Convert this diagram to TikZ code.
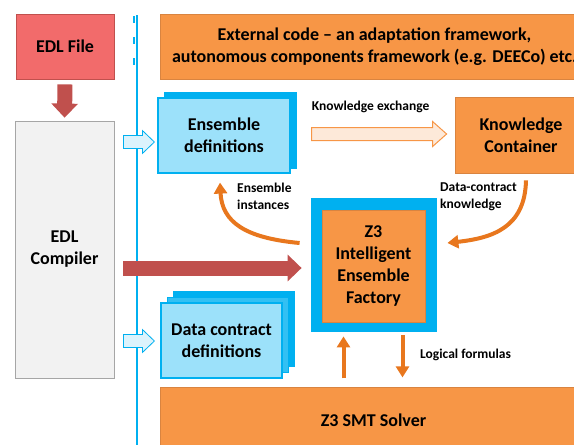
\documentclass[tikz,border=0pt]{standalone}
\usepackage{fontspec}
\setmainfont{Carlito}
\usetikzlibrary{positioning,calc,arrows.meta}
\definecolor{edlred}{HTML}{C0504D}
\definecolor{filered}{HTML}{F26B6B}
\definecolor{orfill}{HTML}{F79646}
\definecolor{ordraw}{HTML}{D98440}
\definecolor{orline}{HTML}{E8771E}
\definecolor{skyblue}{HTML}{00B0F0}
\definecolor{paleblue}{HTML}{9CE1FA}
\definecolor{arrowblue}{HTML}{DCF3FC}
\definecolor{peach}{HTML}{FDE9D9}
\definecolor{greyfill}{HTML}{F2F2F2}
\tikzset{
    box/.style = {
        draw,
        shape=rectangle,
        inner sep=0pt,
        align=center,
        line width=0.8pt,
        font=\fontsize{18}{22}\selectfont\bfseries
    },
    orbox/.style = {
        box,
        fill=orfill,
        draw=ordraw
    },
    filebox/.style = {
        box,
        fill=filered,
        draw=edlred
    },
    compbox/.style = {
        box,
        fill=greyfill,
        draw=gray!70
    },
    frontbox/.style = {
        box,
        fill=paleblue,
        draw=skyblue,
        line width=1.2pt
    },
    backbox/.style = {
        box,
        fill=skyblue,
        draw=skyblue
    },
    lbl/.style = {
        inner sep=0pt,
        align=left,
        font=\fontsize{13.5}{17}\selectfont\bfseries
    },
    redarrow/.style = {
        draw=edlred,
        line width=15pt,
        -{Triangle[length=14pt,width=26pt]}
    },
    orarrow/.style = {
        draw=orline,
        line width=4pt,
        -{Triangle[length=11pt,width=13pt]}
    },
    bluearrow/.style = {
        fill=arrowblue,
        draw=skyblue,
        line width=0.8pt
    },
    peacharrow/.style = {
        fill=peach,
        draw=orfill,
        line width=1pt
    },
    sepline/.style = {
        draw=skyblue,
        line width=2pt
    },
}
% #1 style, #2 from, #3 tip, #4 half shaft, #5 half head, #6 head length
\newcommand{\hblockarrow}[6]{%
    \path[#1] let \p1=(#2), \p2=(#3) in
        (\x1,\y1+#4) -- (\x2-#6,\y1+#4) -- (\x2-#6,\y1+#5) -- (\x2,\y1)
        -- (\x2-#6,\y1-#5) -- (\x2-#6,\y1-#4) -- (\x1,\y1-#4) -- cycle;
}

\begin{document}
\begin{tikzpicture}[x=1pt,y=-1pt]
    \useasboundingbox (0,0) rectangle (574,445);
    \clip (0,0) rectangle (574,445);

    % left column
    \node[filebox, minimum width=98, minimum height=65] (file) at (65,46.5) {EDL File};
    \node[compbox, minimum width=99, minimum height=257] (compiler) at (64.5,249.5) {EDL\\Compiler};

    % separator
    \draw[sepline] (137,15) -- (137,445);
    \draw[sepline, line width=1.5pt, dash pattern=on 7pt off 14pt] (134,16) -- (134,74);

    % right part
    \node[orbox, minimum width=429, minimum height=65] (external) at (374.5,46.5)
        {External code -- an adaptation framework,\\autonomous components framework (e.g. DEECo) etc.};

    \node[backbox, minimum width=132, minimum height=76] (ensback) at (230,130) {};
    \node[frontbox, minimum width=132, minimum height=75] (ensdef) at (224,135.5) {Ensemble\\definitions};

    \node[orbox, minimum width=132, minimum height=76] (kc) at (521,135) {Knowledge\\Container};

    \node[backbox, minimum width=121, minimum height=75] (dcback) at (233.5,328.5) {};
    \node[backbox, minimum width=121, minimum height=75, fill=skyblue!80] (dcmid) at (227.5,334.5) {};
    \node[frontbox, minimum width=121, minimum height=75] (dcdef) at (221.5,340.5) {Data contract\\definitions};

    \node[backbox, minimum width=125, minimum height=133] (factory) at (373.5,264.5) {};
    \node[orbox, minimum width=103, minimum height=112] (core) at (373.5,266)
        {Z3\\Intelligent\\Ensemble\\Factory};

    \node[orbox, minimum width=427, minimum height=66] (solver) at (373.5,420) {Z3 SMT Solver};

    % block arrows
    \path[redarrow] ($(file.south)+(0,5)$) -- ($(compiler.north)+(0,-3)$);
    \path[redarrow] ($(compiler.east |- factory.west)+(9,3.5)$) -- ($(factory.west)+(-9,3.5)$);

    \coordinate (ensin) at ($(compiler.east |- ensdef.west)+(9,6.5)$);
    \coordinate (enstip) at ($(ensdef.west)+(-3,6.5)$);
    \hblockarrow{bluearrow}{ensin}{enstip}{6.5pt}{11.5pt}{12pt}
    \coordinate (dcin) at ($(compiler.east |- dcdef.west)+(9,0.5)$);
    \coordinate (dctip) at ($(dcdef.west)+(-6,0.5)$);
    \hblockarrow{bluearrow}{dcin}{dctip}{6.5pt}{11.5pt}{12pt}

    \coordinate (kxin) at ($(ensdef.east)+(21,-1.5)$);
    \coordinate (kxtip) at ($(kc.west)+(-8,-1)$);
    \hblockarrow{peacharrow}{kxin}{kxtip}{6.5pt}{12.5pt}{14pt}
    \node[lbl, anchor=west] (kxlabel) at ($(kxin)+(0,-27)$) {Knowledge exchange};

    % curved arrows
    \path[orarrow] ($(factory.west)+(-11,-21.5)$) .. controls (245,238) and (222,222) .. ($(ensdef.south)+(-4,9)$);
    \node[lbl, anchor=west] (instlabel) at (237,196.5) {Ensemble\\instances};

    \path[orarrow] ($(kc.south)+(5,7)$) .. controls (525,228) and (492,238) .. ($(factory.east)+(11,-21.5)$);
    \node[lbl, anchor=west] (dklabel) at (440,196.5) {Data-contract\\knowledge};

    % solver arrows
    \path[orarrow] ($(factory.south -| solver.north)+(-30,47)$) -- ($(factory.south)+(-30,5)$);
    \path[orarrow] ($(factory.south)+(29,4)$) -- ($(factory.south -| solver.north)+(29,46)$);
    \node[lbl, anchor=west] (lflabel) at (420,355) {Logical formulas};
\end{tikzpicture}
\end{document}
